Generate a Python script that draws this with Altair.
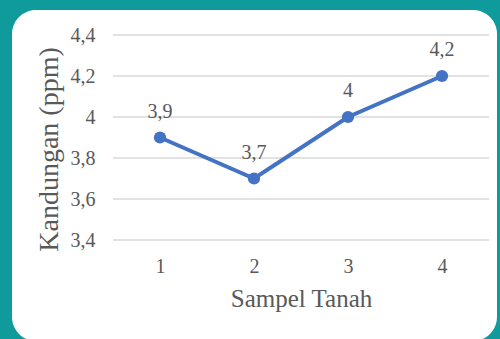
import altair as alt
import pandas as pd

# Soil sample readings
samples = ["1", "2", "3", "4"]
ppm = [3.9, 3.7, 4.0, 4.2]
y_ticks = [3.4, 3.6, 3.8, 4.0, 4.2, 4.4]

FONT = "Liberation Serif"
GREY = "#595959"
BLUE = "#4472C4"
TEAL = "#0f9a9c"
COMMA = "replace(format(datum.value, '.1~f'), '.', ',')"

df = pd.DataFrame({"sampel": samples, "ppm": ppm})
grid_df = pd.DataFrame({"ppm": y_ticks})

x_scale = alt.Scale(type="point", padding=0.5)
y_scale = alt.Scale(domain=[3.4, 4.4], nice=False, zero=False)

# white rounded card behind the plot
panel = alt.Chart(pd.DataFrame({"k": [0]})).mark_rect(
    color="white", cornerRadius=24
).encode(
    x=alt.value(-101), x2=alt.value(384), y=alt.value(-25), y2=alt.value(306)
)

grid = alt.Chart(grid_df).mark_rule(color="#d9d9d9", strokeWidth=1.5).encode(
    y=alt.Y("ppm:Q", scale=y_scale)
)

base = alt.Chart(df).encode(
    x=alt.X(
        "sampel:O",
        scale=x_scale,
        title="Sampel Tanah",
        axis=alt.Axis(
            labelAngle=0, domain=False, ticks=False, grid=False, zindex=1,
            labelFont=FONT, labelFontSize=20, labelColor=GREY, labelPadding=16,
            titleFont=FONT, titleFontSize=25, titleColor=GREY, titleFontWeight="normal",
            titlePadding=10,
        ),
    ),
    y=alt.Y(
        "ppm:Q",
        scale=y_scale,
        title="Kandungan (ppm)",
        axis=alt.Axis(
            values=y_ticks, labelExpr=COMMA, domain=False, ticks=False, grid=False, zindex=1,
            labelFont=FONT, labelFontSize=20, labelColor=GREY, labelPadding=18,
            titleFont=FONT, titleFontSize=28, titleColor=GREY, titleFontWeight="normal",
            titleX=-64, titleY=114, titleAlign="center", titleBaseline="middle",
        ),
    ),
)

line = base.mark_line(color=BLUE, strokeWidth=4)
points = base.mark_point(filled=True, color=BLUE, size=150, opacity=1)
labels = base.transform_calculate(
    lbl="replace(format(datum.ppm, '.1~f'), '.', ',')"
).mark_text(
    font=FONT, fontSize=20, color=GREY, dy=-26, baseline="middle"
).encode(text="lbl:N")

chart = alt.layer(panel, grid, line, points, labels).properties(
    width=376,
    height=205,
    autosize=alt.AutoSizeParams(type="none"),
    padding={"left": 113, "top": 35, "right": 11, "bottom": 99},
    background=TEAL,
).configure_view(stroke=None)

chart.save("out.html", embed_options={"renderer": "svg", "actions": False})
